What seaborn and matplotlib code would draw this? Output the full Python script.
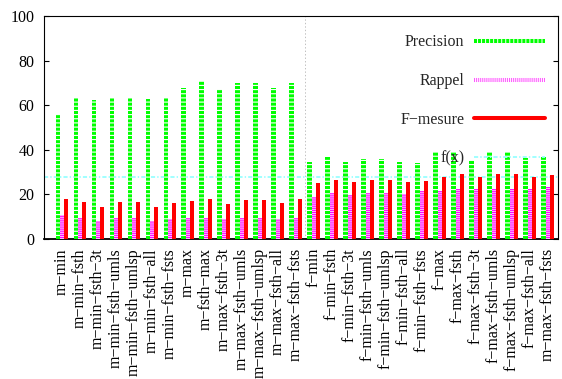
import numpy as np
import pandas as pd
import matplotlib
matplotlib.use("Agg")
import matplotlib.pyplot as plt
import seaborn as sns
from matplotlib.lines import Line2D

# catégories (le dernier libellé est répété tel quel dans l'original)
labels = ["m−min", "m−min−fsth", "m−min−fsth−3t", "m−min−fsth−umls",
          "m−min−fsth−umlsp", "m−min−fsth−all", "m−min−fsth−fsts", "m−max",
          "m−fsth−max", "m−max−fsth−3t", "m−max−fsth−umls", "m−max−fsth−umlsp",
          "m−max−fsth−all", "m−max−fsth−fsts",
          "f−min", "f−min−fsth", "f−min−fsth−3t", "f−min−fsth−umls",
          "f−min−fsth−umlsp", "f−min−fsth−all", "f−min−fsth−fsts", "f−max",
          "f−max−fsth", "f−max−fsth−3t", "f−max−fsth−umls", "f−max−fsth−umlsp",
          "f−max−fsth−all", "m−max−fsth−fsts"]
precision = [56.0, 63.2, 62.5, 63.2, 63.2, 62.8, 63.2, 67.6, 70.9, 67.1, 69.8, 69.8, 67.6, 69.8,
             34.5, 36.8, 34.5, 36.0, 36.0, 34.5, 33.9, 39.0, 39.0, 35.6, 39.0, 39.0, 36.5, 36.8]
rappel = [10.8, 9.6, 8.0, 9.6, 9.6, 8.0, 9.0, 9.6, 9.6, 9.0, 9.6, 9.6, 9.0, 9.6,
          19.0, 20.8, 19.7, 20.8, 20.8, 20.0, 21.5, 21.6, 22.6, 22.6, 22.6, 22.6, 22.6, 23.5]
fmesure = [17.9, 16.6, 14.3, 16.6, 16.6, 14.3, 16.1, 17.2, 17.8, 15.7, 17.7, 17.7, 16.0, 17.8,
           25.0, 26.3, 25.4, 26.3, 26.3, 25.7, 26.2, 27.9, 29.0, 27.9, 29.0, 29.0, 27.9, 28.9]
fx_value = 28
n_m = 14  # nombre de groupes "m-..."

sns.set_style("white")
plt.rcParams['font.family'] = ['Liberation Serif', 'DejaVu Serif']
plt.rcParams['font.size'] = 11.5
plt.rcParams['lines.scale_dashes'] = False
plt.rcParams['hatch.linewidth'] = 0.8

series = ['Precision', 'Rappel', 'F−mesure']
df = pd.DataFrame({'idx': range(len(labels)), series[0]: precision,
                   series[1]: rappel, series[2]: fmesure})
long = df.melt(id_vars='idx', var_name='mesure', value_name='valeur')

fig = plt.figure(figsize=(5.62, 3.79), dpi=100)
ax = fig.add_axes([44/562, 1 - 239/379, 514/562, 223/379])

pal = {'Precision': '#00ff00', 'Rappel': '#ff00ff', 'F−mesure': '#ff0000'}
sns.barplot(data=long, x='idx', y='valeur', hue='mesure', hue_order=series,
            palette=pal, width=0.72, saturation=1, errorbar=None, legend=False,
            linewidth=0, ax=ax, zorder=3)

# motifs façon gnuplot
patterns = {'Precision': ('----', 'white'), 'Rappel': ('--------', '#ffb8ff')}
for cont, name in zip(ax.containers, series):
    if name in patterns:
        h, c = patterns[name]
        for bar in cont:
            bar.set_hatch(h)
            bar.set_edgecolor(c)
            bar.set_linewidth(0)

ax.axhline(fx_value, color='#99ffff', lw=1.3, dashes=(3, 1.5, 1, 1.5), zorder=2)
ax.axvline(n_m - 0.5, color='#c0c0c0', lw=0.7, ls=(0, (1, 1.5)), zorder=1)

ax.set_xlim(-1.0, 27.56)
ax.set_ylim(0, 100)
ax.set_yticks(range(0, 101, 20))
ax.set_xticks(range(len(labels)))
ax.set_xticklabels(labels, rotation=90)
ax.set_xlabel('')
ax.set_ylabel('')
ax.tick_params(axis='y', direction='in', length=3.6, width=0.8, left=True,
               right=True, pad=7, labelsize=11.5, colors='black')
ax.tick_params(axis='x', length=0, pad=6.5, labelsize=11.5, colors='black')
for s in ax.spines.values():
    s.set_visible(True)
    s.set_color('black')
    s.set_linewidth(0.8)
ax.spines['bottom'].set_linewidth(1.3)

handles = [Line2D([], [], color='#00ff00', lw=2.9, dashes=(2.2, 0.7)),
           Line2D([], [], color='#ff55ff', lw=2.9, dashes=(0.7, 0.7)),
           Line2D([], [], color='#ff0000', lw=2.9),
           Line2D([], [], color='#99ffff', lw=1.3, dashes=(3, 1.5, 1, 1.5))]
ax.legend(handles, series + ['f(x)'], loc='upper right',
          bbox_to_anchor=(0.975, 0.918), frameon=False, markerfirst=False,
          handlelength=4.45, handletextpad=0.62, labelspacing=1.43,
          borderpad=0, borderaxespad=0, fontsize=11.5)

fig.savefig('out.png', dpi=100)
